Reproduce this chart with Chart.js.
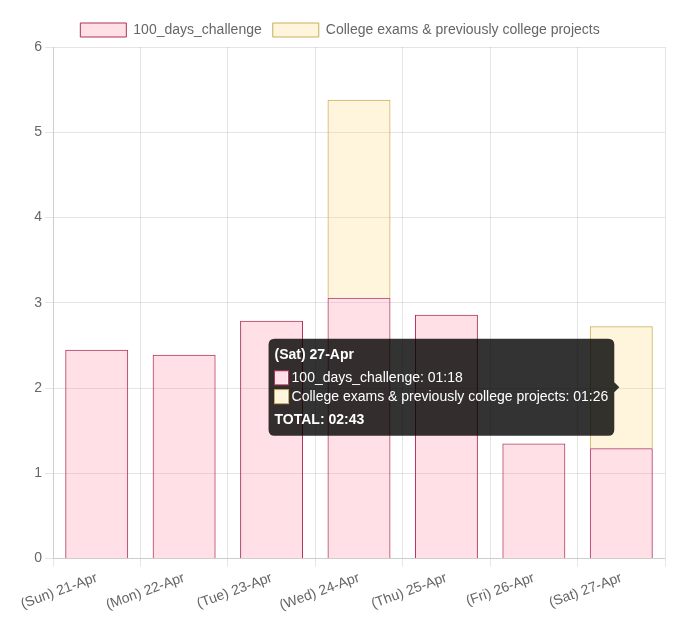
<!DOCTYPE html>
<html>
<head>
<meta charset="utf-8">
<script src="https://cdn.jsdelivr.net/npm/chart.js@4.4.1/dist/chart.umd.min.js"></script>
<style>
  body { margin: 0; background: #fff; }
  #holder { width: 680px; height: 625px; }
</style>
</head>
<body>
<div id="holder"><canvas id="myChart"></canvas></div>
<script>
// hours per day (decimal)
const labels = ['(Sun) 21-Apr', '(Mon) 22-Apr', '(Tue) 23-Apr', '(Wed) 24-Apr', '(Thu) 25-Apr', '(Fri) 26-Apr', '(Sat) 27-Apr'];
const challengeHours = [2.45, 2.39, 2.79, 3.06, 2.86, 1.35, 1.295];
const collegeHours = [0, 0, 0, 2.32, 0, 0, 1.4283];
const seriesNames = ['100_days_challenge', 'College exams & previously college projects'];
const yTicks = [0, 1, 2, 3, 4, 5, 6];

Chart.defaults.font.family = "'Liberation Sans', Arial, sans-serif";
Chart.defaults.font.size = 14;
Chart.defaults.color = '#666';

function toHM(h) {
    const mins = Math.round(h * 60);
    const hh = Math.floor(mins / 60);
    const mm = mins % 60;
    return String(hh).padStart(2, '0') + ':' + String(mm).padStart(2, '0');
}

const ctx = document.getElementById('myChart').getContext('2d');
const myChart = new Chart(ctx, {
    type: 'bar',
    data: {
        labels: labels,
        datasets: [
            {
                label: seriesNames[0],
                data: challengeHours,
                backgroundColor: 'rgba(255, 99, 132, 0.2)',
                borderColor: 'rgb(175, 50, 85)',
                borderWidth: 1
            },
            {
                label: seriesNames[1],
                data: collegeHours,
                backgroundColor: 'rgba(255, 205, 86, 0.2)',
                borderColor: 'rgb(200, 175, 90)',
                borderWidth: 1
            }
        ]
    },
    options: {
        responsive: true,
        maintainAspectRatio: false,
        animation: false,
        events: [],
        layout: { padding: { left: 15, right: 15, top: 12, bottom: 8 } },
        plugins: {
            legend: {
                labels: { boxWidth: 46, boxHeight: 14, padding: 11 }
            },
            tooltip: {
                mode: 'index',
                padding: { top: 8, bottom: 7, left: 6, right: 6 },
                titleFont: { size: 14, weight: 'bold' },
                bodyFont: { size: 14 },
                footerFont: { size: 14, weight: 'bold' },
                footerMarginTop: 7,
                boxPadding: 1,
                callbacks: {
                    label: (item) => item.dataset.label + ': ' + toHM(item.raw),
                    footer: (items) => 'TOTAL: ' + toHM(items.reduce((s, it) => s + it.raw, 0))
                }
            }
        },
        scales: {
            x: {
                stacked: true,
                ticks: { minRotation: 20, maxRotation: 20 }
            },
            y: {
                stacked: true,
                min: yTicks[0],
                max: yTicks[yTicks.length - 1],
                ticks: { stepSize: 1 },
                afterFit: (scale) => { scale.width = 38; }
            }
        }
    }
});

myChart.tooltip.setActiveElements([
    { datasetIndex: 0, index: 6 },
    { datasetIndex: 1, index: 6 }
], { x: 0, y: 0 });
myChart.update();
</script>
</body>
</html>
